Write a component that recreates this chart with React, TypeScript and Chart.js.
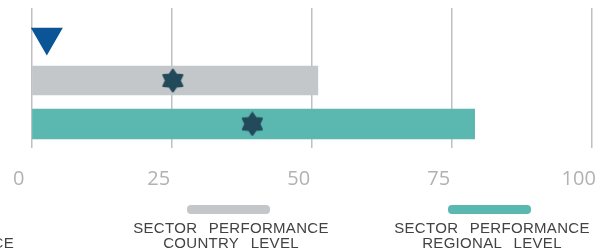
import React, { useEffect, useRef } from 'react';
import { Chart, registerables } from 'chart.js';

Chart.register(...registerables);

// ---- data ----
const rowIndex = [0, 1, 2]; // 0: your performance, 1: country level, 2: regional level
const countryLevel = [51.1];
const regionalLevel = [79.1];
const yourPerformance = [2.7];
const averageMarkers = [25.2, 39.4];
const xTickValues = [0, 25, 50, 75, 100];
const legendLabels: string[][] = [
  ['YOUR', 'PERFORMANCE'],
  ['SECTOR PERFORMANCE', 'COUNTRY LEVEL'],
  ['SECTOR PERFORMANCE', 'REGIONAL LEVEL'],
];

// ---- styles ----
const GRAY = '#c4c7ca';
const TEAL = '#5bb8b1';
const STAR = '#234a5b';
const NAVY = '#0b5596';
const legendColors = [null, GRAY, TEAL];
const legendCenters = [-46, 231, 492];

function makeStar(size: number, color: string): HTMLCanvasElement {
  const c = document.createElement('canvas');
  c.width = size;
  c.height = size;
  const ctx = c.getContext('2d')!;
  const cx = size / 2;
  const cy = size / 2;
  const R = size / 2 - 1.5;
  const r = R * 0.63;
  ctx.beginPath();
  for (let i = 0; i < 12; i++) {
    const a = -Math.PI / 2 + (i * Math.PI) / 6;
    const rad = i % 2 === 0 ? R : r;
    const px = cx + Math.cos(a) * rad;
    const py = cy + Math.sin(a) * rad;
    if (i === 0) ctx.moveTo(px, py);
    else ctx.lineTo(px, py);
  }
  ctx.closePath();
  ctx.fillStyle = color;
  ctx.strokeStyle = color;
  ctx.lineJoin = 'round';
  ctx.lineWidth = 2;
  ctx.fill();
  ctx.stroke();
  return c;
}

const legendPlugin = {
  id: 'bottomLegend',
  afterDraw(chart: any) {
    const ctx = chart.ctx as CanvasRenderingContext2D;
    ctx.save();
    legendLabels.forEach((lines, i) => {
      const cx = legendCenters[i];
      const col = legendColors[i];
      if (col) {
        ctx.fillStyle = col;
        ctx.beginPath();
        (ctx as any).roundRect(cx - 44, 205, 83, 9, 4);
        ctx.fill();
      }
      ctx.fillStyle = '#424242';
      ctx.font = '15px "Liberation Sans", Arial, sans-serif';
      ctx.textAlign = 'center';
      ctx.textBaseline = 'middle';
      try {
        (ctx as any).letterSpacing = '0.3px';
        (ctx as any).wordSpacing = '7px';
      } catch (e) {}
      lines.forEach((t, j) => {
        ctx.fillText(t, cx, 228.5 + j * 15.5);
      });
    });
    ctx.restore();
  },
};

export default function App() {
  const ref = useRef<HTMLCanvasElement | null>(null);

  useEffect(() => {
    if (!ref.current) return;
    const star = makeStar(25, STAR);
    const chart = new Chart(ref.current, {
      type: 'bar',
      data: {
        datasets: [
          {
            type: 'bar',
            label: legendLabels[1].join(' '),
            indexAxis: 'y',
            grouped: false,
            data: countryLevel.map((v) => ({ x: v, y: rowIndex[1] })),
            backgroundColor: GRAY,
            barThickness: 29,
            order: 3,
          } as any,
          {
            type: 'bar',
            label: legendLabels[2].join(' '),
            indexAxis: 'y',
            grouped: false,
            data: regionalLevel.map((v) => ({ x: v, y: rowIndex[2] })),
            backgroundColor: TEAL,
            barThickness: 30,
            order: 2,
          } as any,
          {
            type: 'scatter',
            label: 'Average',
            data: averageMarkers.map((v, i) => ({ x: v, y: rowIndex[i + 1] })),
            pointStyle: star,
            pointRadius: 12,
            clip: false,
            order: 1,
          } as any,
          {
            type: 'scatter',
            label: legendLabels[0].join(' '),
            data: yourPerformance.map((v) => ({ x: v, y: rowIndex[0] })),
            pointStyle: 'triangle',
            rotation: 180,
            pointRadius: 16.5,
            backgroundColor: NAVY,
            borderColor: NAVY,
            borderWidth: 2,
            borderJoinStyle: 'round',
            clip: false,
            order: 0,
          } as any,
        ],
      },
      options: {
        indexAxis: 'y',
        responsive: false,
        animation: false,
        events: [],
        layout: { autoPadding: false, padding: { left: 31.7, right: 8.3, top: 8, bottom: 0 } },
        plugins: {
          legend: { display: false },
          tooltip: { enabled: false },
        },
        scales: {
          x: {
            type: 'linear',
            position: 'bottom',
            offset: false,
            min: 0,
            max: 100,
            afterBuildTicks: (scale: any) => {
              scale.ticks = xTickValues.map((v) => ({ value: v }));
            },
            afterFit: (scale: any) => {
              scale.height = 103;
              scale.paddingLeft = 0;
              scale.paddingRight = 0;
            },
            grid: { color: '#c0c0c0', lineWidth: 1.5, drawTicks: false, offset: false },
            border: { display: false },
            ticks: {
              padding: 19,
              labelOffset: -13,
              color: '#b2b2b2',
              font: { family: '"Open Sans", "Noto Sans", sans-serif', size: 20 },
              maxRotation: 0,
              autoSkip: false,
            },
          },
          y: {
            type: 'linear',
            display: false,
            offset: false,
            reverse: true,
            min: -0.667,
            max: 2.552,
            grid: { display: false, offset: false },
          },
        },
      } as any,
      plugins: [legendPlugin],
    });
    return () => chart.destroy();
  }, []);

  return (
    <div style={{ position: 'fixed', left: 0, top: 0, width: 600, height: 251, background: '#fff' }}>
      <canvas ref={ref} width={600} height={251} style={{ display: 'block', width: 600, height: 251 }} />
    </div>
  );
}
